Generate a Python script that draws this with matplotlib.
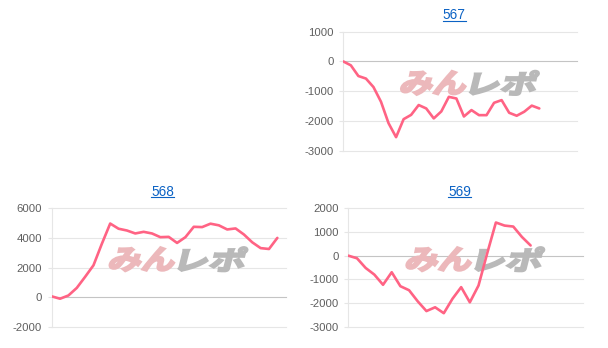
import matplotlib
matplotlib.use("Agg")
import matplotlib.pyplot as plt
import matplotlib.transforms as mtransforms
from matplotlib.textpath import TextPath
from matplotlib.patches import PathPatch
from matplotlib.font_manager import FontProperties

# data
titles = ["567", "568", "569"]

values_567 = [0, -130, -490, -575, -860, -1355, -2075, -2545, -1940, -1795, -1465, -1580,
              -1915, -1680, -1190, -1245, -1850, -1635, -1805, -1805, -1390, -1300,
              -1725, -1825, -1690, -1485, -1580]
values_568 = [50, -110, 110, 620, 1370, 2150, 3600, 4970, 4620, 4500, 4300, 4410, 4300,
              4050, 4070, 3660, 4050, 4750, 4730, 4960, 4850, 4570, 4640, 4230, 3700,
              3310, 3250, 4000]
values_569 = [0, -110, -520, -800, -1230, -700, -1290, -1460, -1930, -2340, -2180, -2430,
              -1820, -1330, -1970, -1260, 100, 1400, 1270, 1230, 790, 430]

slots = [32, 29, 28]  # number of x categories on each chart
yticks_567 = [-3000, -2000, -1000, 0, 1000]
yticks_568 = [-2000, 0, 2000, 4000, 6000]
yticks_569 = [-3000, -2000, -1000, 0, 1000, 2000]

series = [values_567, values_568, values_569]
yticks = [yticks_567, yticks_568, yticks_569]

W, H = 608, 348
# axes boxes in pixels: x0, x1, y_top, y_bottom
boxes = [(343.3, 577, 31.7, 150.7),
         (51.7, 285.7, 208.3, 326.7),
         (348.3, 582.7, 208.3, 326.7)]

LINE = "#ff6384"
GRID = "#e6e6e6"
ZERO = "#c4c4c4"
TICK = "#5f5f5f"
LINK = "#0b62c4"

plt.rcParams["font.family"] = ["Liberation Sans", "DejaVu Sans"]

fig = plt.figure(figsize=(W / 100, H / 100), dpi=100)

logo_fp = FontProperties(family="Noto Sans CJK JP", weight="bold")


def add_logo(ax, cx=0.54, cy=0.57):
    # pink / gray site logo behind the line
    parts = [("みん", "#ecb8bb", -35), ("レポ", "#b9b9b9", 35)]
    for s, col, dx in parts:
        tp = TextPath((0, 0), s, size=10, prop=logo_fp)
        bb = tp.get_extents()
        tr = (mtransforms.Affine2D()
              .translate(-bb.x0 - bb.width / 2, -bb.y0 - bb.height / 2)
              .scale(64 / bb.width, 24 / bb.height)
              .skew_deg(14, 0)
              .translate(dx, 0)
              + mtransforms.ScaledTranslation(cx, cy, ax.transAxes))
        p = PathPatch(tp, transform=tr, facecolor=col, edgecolor=col, lw=1.6,
                      joinstyle="miter", zorder=1.5, clip_on=False)
        ax.add_artist(p)


axes = []
for title, vals, ticks, n, (x0, x1, yt, yb) in zip(titles, series, yticks, slots, boxes):
    ax = fig.add_axes([x0 / W, 1 - yb / H, (x1 - x0) / W, (yb - yt) / H])
    axes.append(ax)
    ax.plot(range(len(vals)), vals, color=LINE, lw=1.9, zorder=3,
            solid_joinstyle="round", solid_capstyle="round")
    ax.set_xlim(0, n - 1)
    ax.set_ylim(ticks[0], ticks[-1])
    ax.set_yticks(ticks)
    ax.set_yticklabels([str(t) for t in ticks])
    ax.set_xticks([])
    ax.tick_params(axis="y", length=3, width=0.8, color=GRID, pad=4,
                   labelsize=8.2, labelcolor=TICK)
    ax.grid(axis="y", color=GRID, lw=0.8)
    for tk in ax.yaxis.get_major_ticks():
        tk.gridline.set_clip_on(False)
        if tk.get_loc() == 0:
            tk.gridline.set_color(ZERO)
            tk.tick1line.set_color(ZERO)
    ax.set_axisbelow(True)
    for side in ["top", "right", "bottom"]:
        ax.spines[side].set_visible(False)
    ax.spines["left"].set_color(GRID)
    ax.spines["left"].set_linewidth(0.8)
    ax.patch.set_alpha(0)
    add_logo(ax)
    ax.annotate(title, xy=(0.5, 1), xycoords="axes fraction",
                xytext=(-4.3, 11.8), textcoords="offset points",
                ha="center", va="center", fontsize=9.8, color=LINK)

# underline the chart titles like links
fig.canvas.draw()
renderer = fig.canvas.get_renderer()
for ax in axes:
    for t in ax.texts:
        bb = t.get_window_extent(renderer)
        yl = (bb.y0 + 1.5) / H
        fig.add_artist(plt.Line2D([bb.x0 / W, bb.x1 / W], [yl, yl],
                                  transform=fig.transFigure, color=LINK, lw=0.8))

fig.savefig("out.png", dpi=100)
